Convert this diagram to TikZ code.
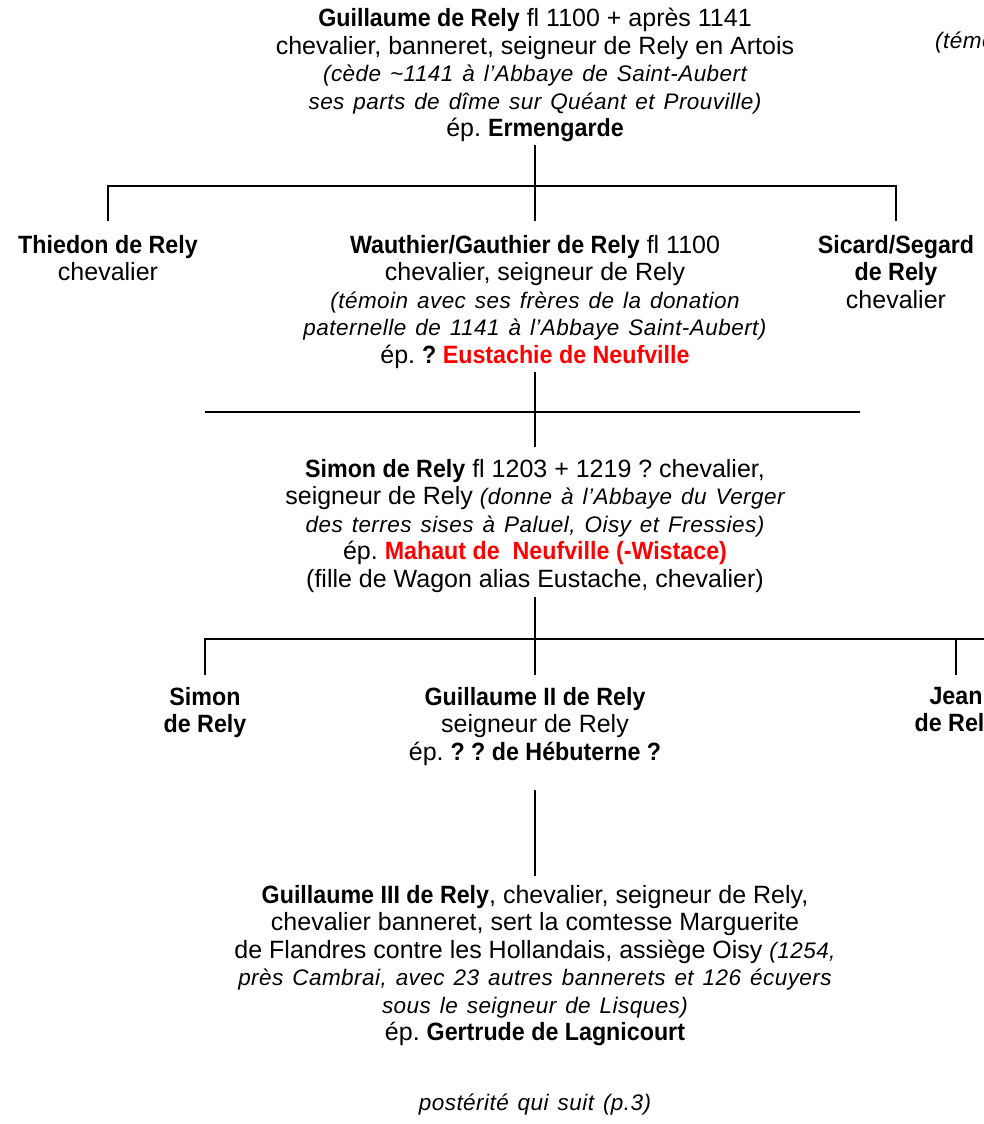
\documentclass[tikz,border=0pt]{standalone}
\usepackage{fontspec}
\setmainfont{Liberation Sans}[BoldFeatures={FakeStretch=0.93}]
\newcommand\itx[1]{{\fontsize{22.5}{27.5}\selectfont\itshape\addfontfeature{LetterSpace=2}\spaceskip=0.4em plus 0.1em\relax #1}}
\tikzset{
  person/.style={font=\fontsize{25}{27.5}\selectfont\frenchspacing, align=center, inner sep=0pt, anchor=north},
  link/.style={line width=2.5pt, line cap=butt}
}
\begin{document}
\begin{tikzpicture}[x=1pt,y=-1pt]
\useasboundingbox (0,0) rectangle (984,1124);
\clip (0,0) rectangle (984,1124);
% text blocks
\node[person] (A) at (535,8) {\textbf{Guillaume de Rely} fl 1100 + après 1141\\
chevalier, banneret, seigneur de Rely en Artois\\
\itx{(cède {\textasciitilde}1141 à l’Abbaye de Saint-Aubert}\\
\itx{ses parts de dîme sur Quéant et Prouville)}\\
ép. \textbf{Ermengarde}};
\node[person, anchor=north west] (W) at (935,32) {\itx{(témoin}};
\node[person] (B) at (108,235) {\textbf{Thiedon de Rely}\\chevalier};
\node[person] (C) at (535,235) {\textbf{Wauthier/Gauthier de Rely} fl 1100\\
chevalier, seigneur de Rely\\
\itx{(témoin avec ses frères de la donation}\\
\itx{paternelle de 1141 à l’Abbaye Saint-Aubert)}\\
ép. \textbf{? \textcolor{red}{Eustachie de Neufville}}};
\node[person] (D) at (896,235) {\textbf{Sicard/Segard}\\\textbf{de Rely}\\chevalier};
\node[person] (F) at (535,459) {\textbf{Simon de Rely} fl 1203 + 1219 ? chevalier,\\
seigneur de Rely \itx{(donne à l’Abbaye du Verger}\\
\itx{des terres sises à Paluel, Oisy et Fressies)}\\
ép. \textbf{\textcolor{red}{Mahaut de\ \ Neufville (-Wistace)}}\\
(fille de Wagon alias Eustache, chevalier)};
\node[person] (G) at (205,687) {\textbf{Simon}\\\textbf{de Rely}};
\node[person] (H) at (535,687) {\textbf{Guillaume II de Rely}\\
seigneur de Rely\\
ép. \textbf{? ? de Hébuterne ?}};
\node[person] (I) at (956,687) {\textbf{Jean}\\\textbf{de Rely}};
\node[person] (J) at (535,885) {\textbf{Guillaume III de Rely}, chevalier, seigneur de Rely,\\
chevalier banneret, sert la comtesse Marguerite\\
de Flandres contre les Hollandais, assiège Oisy \itx{(1254,}\\
\itx{près Cambrai, avec 23 autres bannerets et 126 écuyers}\\
\itx{sous le seigneur de Lisques)}\\
ép. \textbf{Gertrude de Lagnicourt}};
\node[person] (K) at (535,1094) {\itx{postérité qui suit (p.3)}};
% connectors, generation 1
\coordinate (a1) at (535,145);
\coordinate (a2) at (535,221);
\coordinate (b1) at (108,186);
\coordinate (b2) at (108,221);
\coordinate (d1) at (896,186);
\coordinate (d2) at (896,221);
\draw[link] (a1) -- (a2);
\draw[link] (b2) -- (b1) -- (d1) -- (d2);
% generation 2
\coordinate (c1) at (535,372);
\coordinate (c2) at (535,447);
\coordinate (e1) at (205,412);
\coordinate (e2) at (860,412);
\draw[link] (c1) -- (c2);
\draw[link] (e1) -- (e2);
% generation 3
\coordinate (f1) at (535,597);
\coordinate (f2) at (535,675);
\coordinate (g1) at (205,639);
\coordinate (g2) at (205,675);
\coordinate (i1) at (956,639);
\coordinate (i2) at (956,675);
\coordinate (i3) at (990,639);
\draw[link] (f1) -- (f2);
\draw[link] (g2) -- (g1) -- (i3);
\draw[link] (i1) -- (i2);
% generation 4
\coordinate (h1) at (535,790);
\coordinate (h2) at (535,876);
\draw[link] (h1) -- (h2);
\end{tikzpicture}
\end{document}
